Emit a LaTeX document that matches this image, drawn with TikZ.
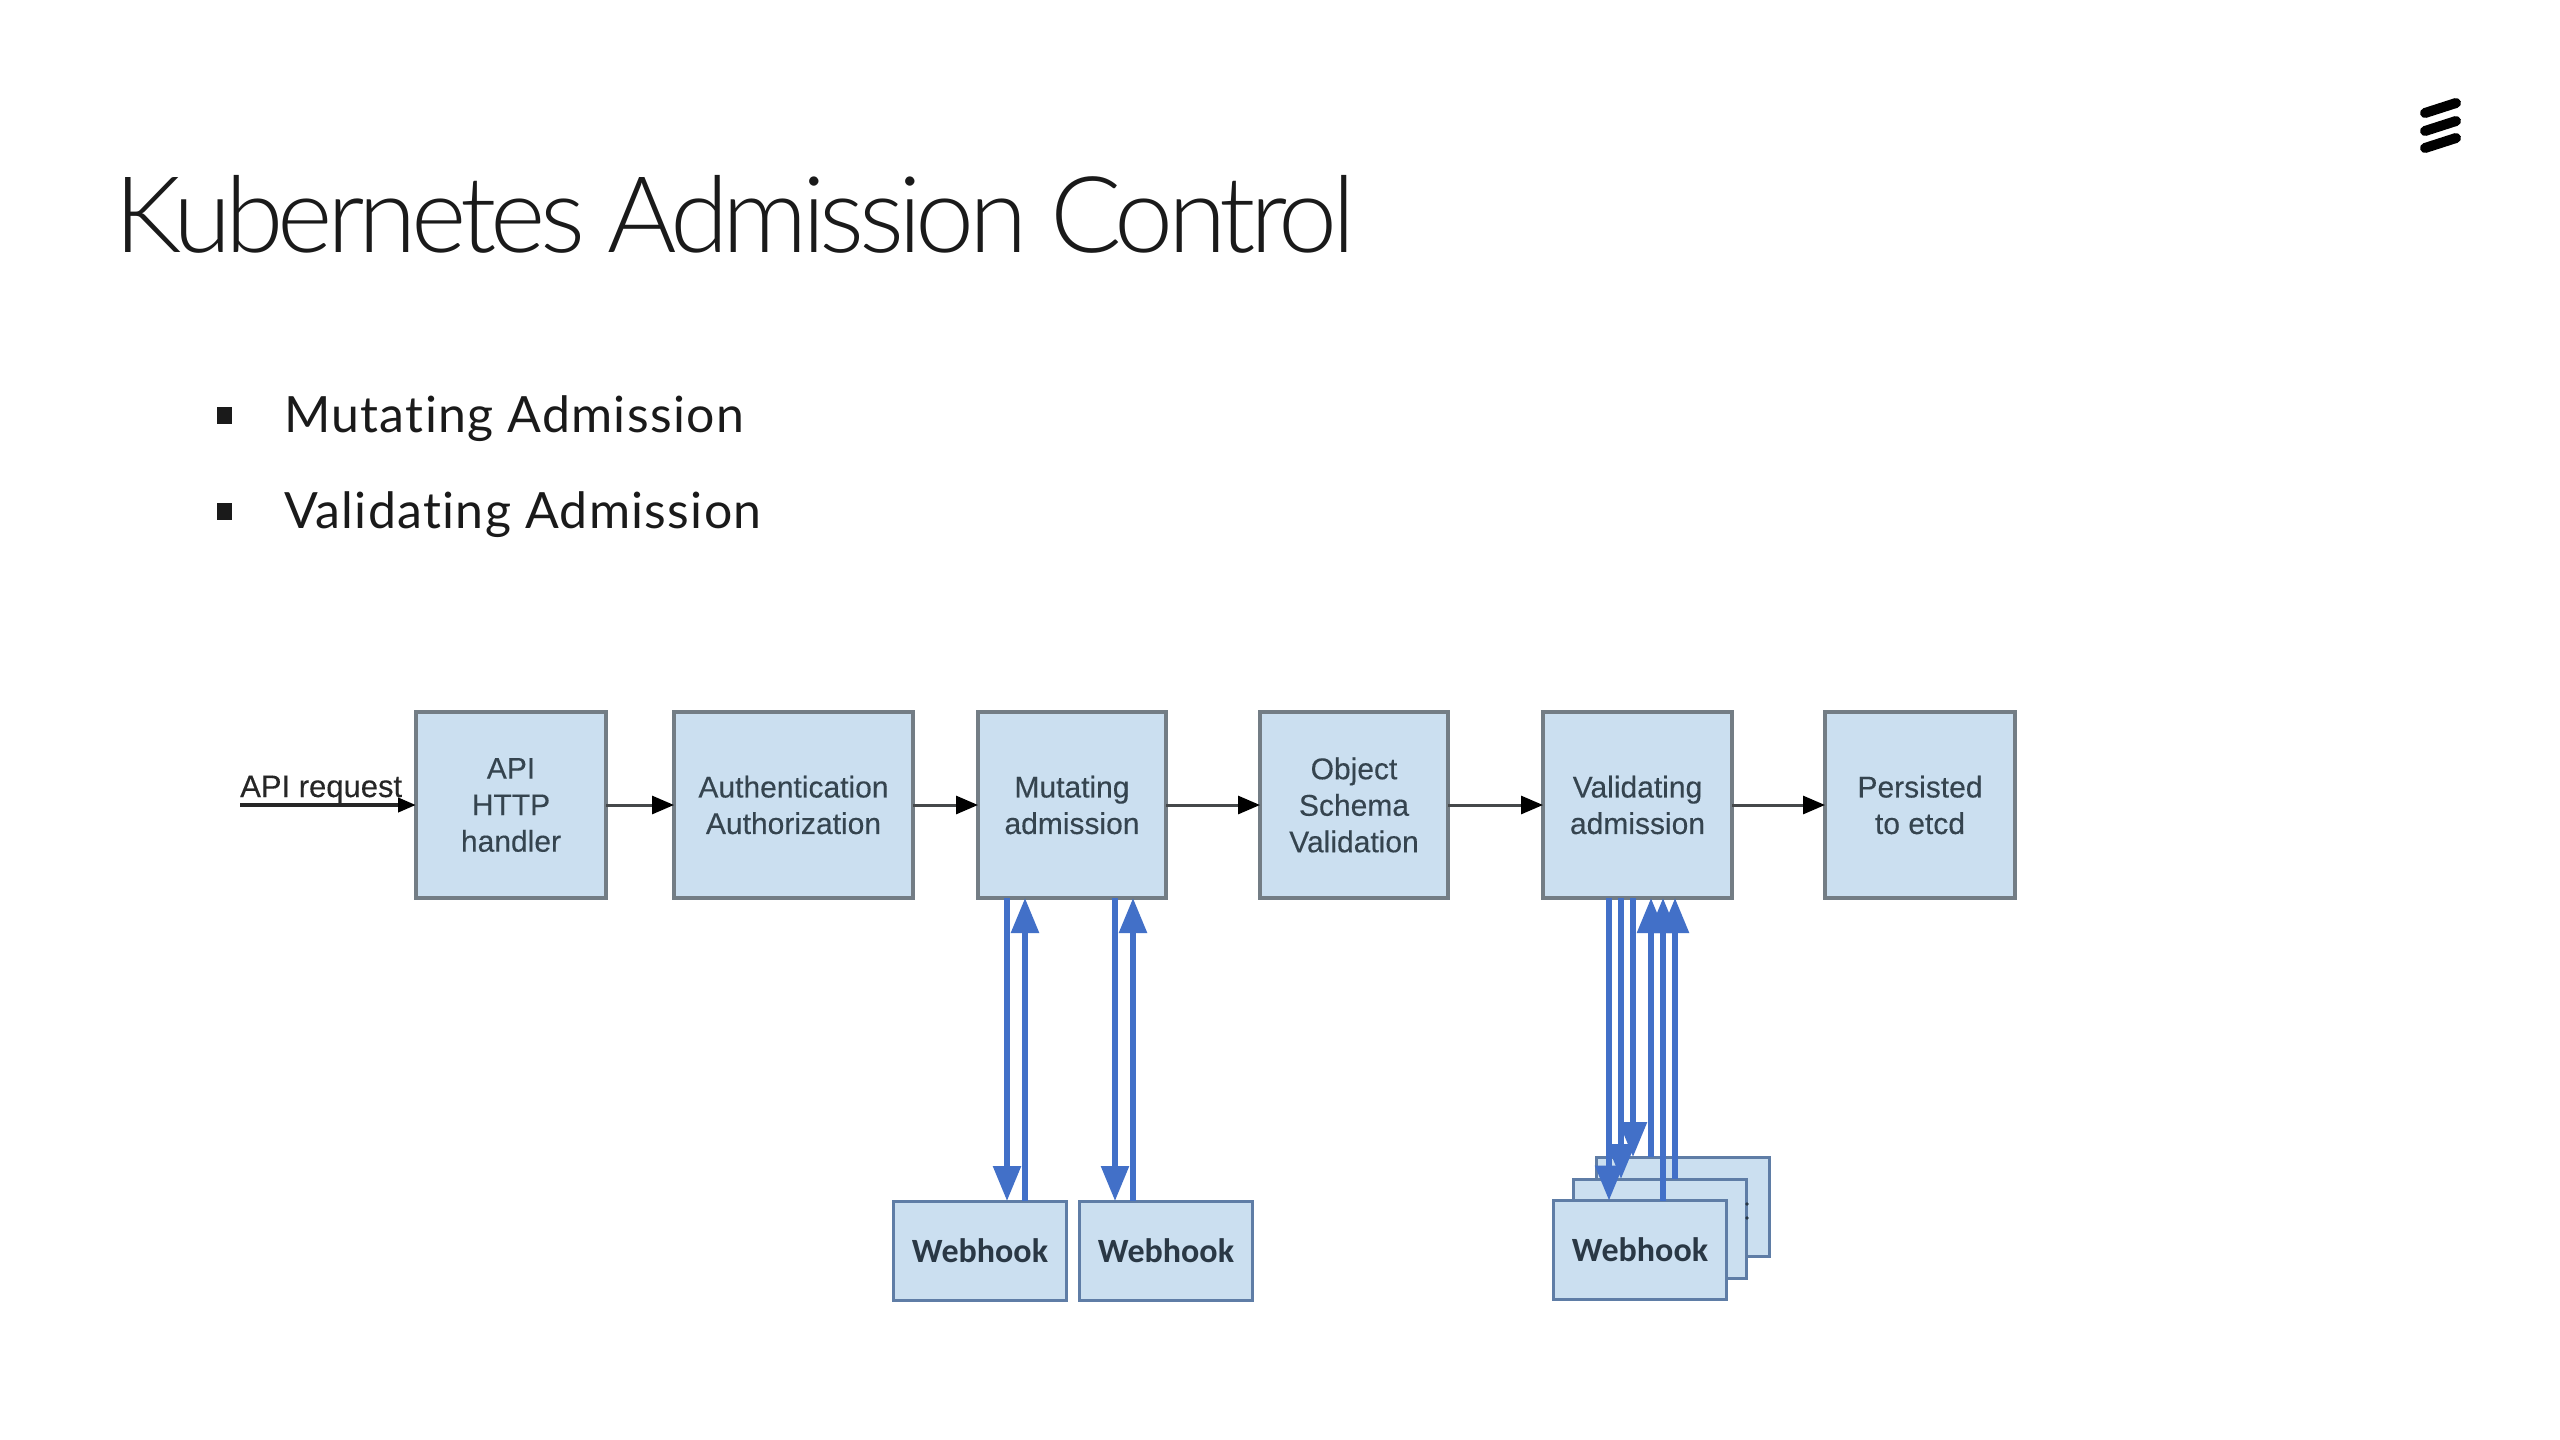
\documentclass[tikz,border=0pt]{standalone}
\usepackage{fontspec}
\usetikzlibrary{arrows.meta}
\setmainfont{Liberation Sans}
\newfontfamily\stagefont[FakeBold=0.25]{Liberation Sans}
\newfontfamily\titlefont[UprightFont=* Light,LetterSpace=-5.6]{Lato}
\newfontfamily\bulletfont[Ligatures=NoCommon,LetterSpace=2.6]{Lato}
\newfontfamily\hookfont{Carlito}
\definecolor{boxfill}{HTML}{CBDFF0}
\definecolor{boxline}{HTML}{737D85}
\definecolor{hookline}{HTML}{5F7DA6}
\definecolor{boxtext}{HTML}{35444F}
\definecolor{hooktext}{HTML}{2A3845}
\definecolor{flowblue}{HTML}{4270C8}
\definecolor{flowgrey}{HTML}{45484A}
\definecolor{ink}{HTML}{1A1A1A}
\tikzset{
  stagebox/.style={draw=boxline,fill=boxfill,line width=3.2pt,minimum height=186pt,outer sep=0pt,inner sep=0pt,
    align=center,text=boxtext,font=\stagefont\fontsize{30}{36.5}\selectfont,execute at begin node={\vspace*{2.5pt}}},
  hookbox/.style={draw=hookline,fill=boxfill,line width=3pt,minimum width=173pt,minimum height=99pt,outer sep=0pt,inner sep=0pt,
    text=hooktext,font=\hookfont\bfseries\fontsize{34}{40}\selectfont},
  flow/.style={draw=flowgrey,line width=3pt,-{Triangle[length=22pt,width=18pt,fill=black,color=black]}},
  hookflow/.style={draw=flowblue,line width=5.6pt,-{Triangle[length=35pt,width=27pt]}},
  inflow/.style={draw=black!85,line width=4pt,-{Triangle[length=18pt,width=14pt,fill=black,color=black]}},
  bulletmark/.style={fill=ink,minimum width=15pt,minimum height=17pt,inner sep=0pt,outer sep=0pt},
  bullettext/.style={anchor=base west,inner sep=0pt,text=ink,font=\bulletfont\fontsize{50}{60}\selectfont},
  logobar/.style={draw=black,line width=10pt,line cap=round},
}
\begin{document}
\begin{tikzpicture}[x=1pt,y=-1pt]
\useasboundingbox (0,0) rectangle (2560,1440);
\fill[white] (0,0) rectangle (2560,1440);
% title and bullets
\node[anchor=base west,inner sep=0pt,text=ink,font=\titlefont\fontsize{106}{120}\selectfont] (title) at (114,252) {Kubernetes Admission Control};
\node[bulletmark] (b1) at (224,415) {};
\node[bullettext] (t1) at (284,432) {Mutating Admission};
\node[bulletmark] (b2) at (224,511) {};
\node[bullettext] (t2) at (284,528) {Validating Admission};
% logo
\draw[logobar] (2425,113) -- (2456,103);
\draw[logobar] (2425,131) -- (2456,121);
\draw[logobar] (2425,148) -- (2456,138);
% stages
\node[stagebox,minimum width=190pt] (api) at (511,805) {API\\HTTP\\handler};
\node[stagebox,minimum width=239pt] (auth) at (793.5,805) {Authentication\\Authorization};
\node[stagebox,minimum width=188pt] (mut) at (1072,805) {Mutating\\admission};
\node[stagebox,minimum width=188pt] (obj) at (1354,805) {Object\\Schema\\Validation};
\node[stagebox,minimum width=189pt] (val) at (1637.5,805) {Validating\\admission};
\node[stagebox,minimum width=190pt] (pers) at (1920,805) {Persisted\\to etcd};
% api request
\coordinate (src) at (240,805);
\node[anchor=base west,inner sep=0pt,text=black!85,font=\stagefont\fontsize{31}{36}\selectfont] (req) at (240,797) {API request};
\draw[inflow] (src) -- (api.west);
\draw[flow] (api) -- (auth);
\draw[flow] (auth) -- (mut);
\draw[flow] (mut) -- (obj);
\draw[flow] (obj) -- (val);
\draw[flow] (val) -- (pers);
% webhooks
\node[hookbox] (w1) at (980,1250.5) {Webhook};
\node[hookbox] (w2) at (1166,1250.5) {Webhook};
\node[hookbox] (w3c) at (1682.5,1206.5) {};
\node[hookbox] (w3b) at (1660,1228.5) {};
\fill[hooktext] (1747,1204) circle (1.8pt) (1747,1218) circle (1.8pt);
\draw[hookflow] ([xshift=-65pt]mut.south) -- ([xshift=27pt]w1.north);
\draw[hookflow] ([xshift=45pt]w1.north) -- ([xshift=-47pt]mut.south);
\draw[hookflow] ([xshift=43pt]mut.south) -- ([xshift=-51pt]w2.north);
\draw[hookflow] ([xshift=-33pt]w2.north) -- ([xshift=61pt]mut.south);
\node[hookbox] (w3a) at (1640,1250) {Webhook};
\draw[hookflow] ([xshift=-28.5pt]val.south) -- ([xshift=-31pt]w3a.north);
\draw[hookflow] ([xshift=-16.5pt]val.south) -- ([xshift=-39pt]w3b.north);
\draw[hookflow] ([xshift=-4.5pt]val.south) -- ([xshift=-49.5pt]w3c.north);
\draw[hookflow] ([xshift=-31.5pt]w3c.north) -- ([xshift=13.5pt]val.south);
\draw[hookflow] ([xshift=23pt]w3a.north) -- ([xshift=25.5pt]val.south);
\draw[hookflow] ([xshift=15pt]w3b.north) -- ([xshift=37.5pt]val.south);
\end{tikzpicture}
\end{document}
